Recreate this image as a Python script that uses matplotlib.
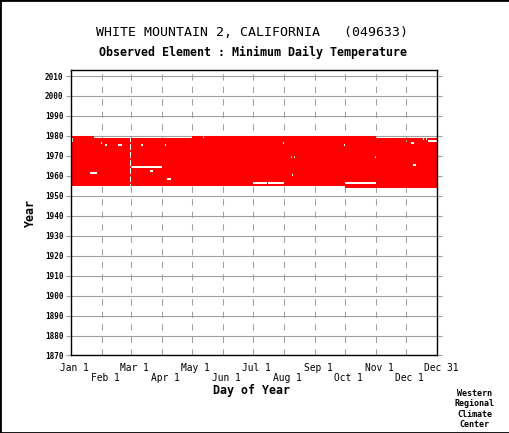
import numpy as np
import matplotlib
matplotlib.use("Agg")
import matplotlib.pyplot as plt
from matplotlib.patches import Rectangle
from matplotlib.transforms import blended_transform_factory

# =========================
# DATA
# =========================

first_year = 1954
last_year = 1979
record_start_day = 275      # Oct 1, 1954
record_end_day = 305        # Oct 31, 1979 (1979 gap after)

# missing stretches: year, first day, last day (366-day calendar)
gap_years = [1979, 1979, 1979,
             1978, 1978, 1978,
             1977, 1977, 1977,
             1976, 1976, 1976,
             1975, 1975, 1975, 1975, 1975,
             1969, 1969, 1969,
             1965, 1964, 1962, 1961, 1960, 1958,
             1956, 1956, 1956]
gap_start = [24, 133, 306,
             1, 353, 356,
             2, 336, 358,
             31, 213, 341,
             35, 48, 71, 95, 274,
             221, 224, 305,
             343, 61, 80, 20, 222, 97,
             183, 198, 275]
gap_end = [121, 133, 366,
           2, 353, 356,
           2, 336, 366,
           31, 213, 343,
           36, 51, 72, 95, 274,
           221, 224, 305,
           345, 91, 82, 26, 222, 100,
           196, 213, 305]

month_days = [1, 32, 61, 92, 122, 153, 183, 214, 245, 275, 306, 336]
month_labels = ["Jan 1", "Feb 1", "Mar 1", "Apr 1", "May 1", "Jun 1",
                "Jul 1", "Aug 1", "Sep 1", "Oct 1", "Nov 1", "Dec 1"]

year_ticks = list(range(1870, 2011, 10))

# =========================
# BUILD PRESENCE GRID
# =========================

years = np.arange(first_year, last_year + 1)
present = np.ones((len(years), 366), dtype=bool)

# Feb 29 only in leap years
for i, yr in enumerate(years):
    if yr % 4 != 0:
        present[i, 59] = False

present[0, :record_start_day - 1] = False
present[-1, record_end_day:] = False

for yr, d0, d1 in zip(gap_years, gap_start, gap_end):
    present[yr - first_year, d0 - 1:d1] = False

rgba = np.zeros((len(years), 366, 4))
rgba[present] = [1.0, 0.0, 0.0, 1.0]

# =========================
# PLOT
# =========================

gray = "#a0a0a0"
mono = "DejaVu Sans Mono"

fig = plt.figure(figsize=(5.1, 4.33), dpi=100)
ax = fig.add_axes([0.1392, 0.179, 0.7176, 0.6593])

ax.imshow(rgba, origin="lower", aspect="auto", interpolation="nearest",
          extent=(0, 366, first_year, last_year + 1), zorder=2)

ax.set_xlim(0, 366)
ax.set_ylim(1870, 2013)

for d in month_days[1:]:
    ax.axvline(d - 1, color=gray, lw=0.75, ls=(0, (6, 6)), zorder=1)

ax.set_yticks(year_ticks)
ax.set_yticklabels([str(y) for y in year_ticks], fontfamily=mono,
                   fontsize=5.5, fontweight="bold")
ax.yaxis.grid(True, color=gray, lw=0.8, zorder=1)
ax.set_axisbelow(True)
ax.tick_params(axis="y", direction="out", length=3.5, width=0.8,
               color=gray, left=True, right=True, pad=2)
ax.set_xticks([])

for sp in ax.spines.values():
    sp.set_color("black")
    sp.set_linewidth(1.0)
    sp.set_zorder(3)

# x labels in two staggered rows
trans = blended_transform_factory(ax.transData, fig.transFigure)
for k, (d, lab) in enumerate(zip(month_days, month_labels)):
    row_y = 0.150 if k % 2 == 0 else 0.127
    ax.text(d - 1 + 3, row_y, lab, transform=trans, ha="center", va="center",
            fontfamily=mono, fontsize=6.9)
ax.text(366 + 4, 0.150, "Dec 31", transform=trans, ha="center", va="center",
        fontfamily=mono, fontsize=6.9)

fig.text(0.4941, 0.098, "Day of Year", ha="center", va="center",
         fontfamily=mono, fontsize=8.4, fontweight="bold")
fig.text(0.059, 0.508, "Year", ha="center", va="center", rotation=90,
         fontfamily=mono, fontsize=8.4, fontweight="bold")

fig.text(0.494, 0.9238, "WHITE MOUNTAIN 2, CALIFORNIA   (049633)",
         ha="center", va="center", fontfamily=mono, fontsize=9.5)
fig.text(0.496, 0.880, "Observed Element : Minimum Daily Temperature",
         ha="center", va="center", fontfamily=mono, fontsize=8.4,
         fontweight="bold")

fig.text(0.931, 0.0554, "Western\nRegional\nClimate\nCenter",
         ha="center", va="center", fontfamily=mono, fontsize=6,
         fontweight="bold")

fig.patches.append(Rectangle((0, 0), 1, 1, transform=fig.transFigure,
                             fill=False, edgecolor="black", lw=2))

plt.savefig("out.png", dpi=100)
